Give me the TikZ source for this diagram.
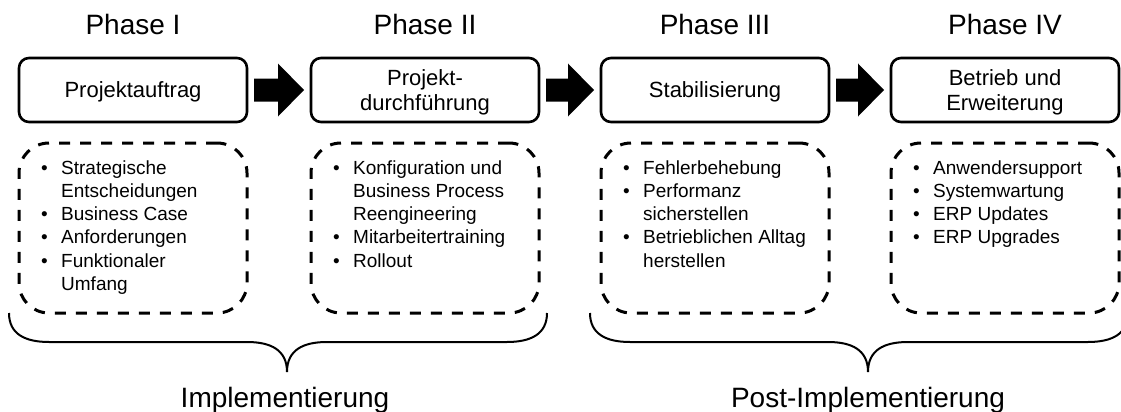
\documentclass[tikz,border=0pt]{standalone}
\usepackage{fontspec}
\setmainfont{Liberation Sans}
\usetikzlibrary{calc}
\newcommand\bl[1]{\makebox[20pt][l]{•}#1}
\newcommand\cl[1]{\hspace*{20pt}#1}
\newcommand\blockarrow[2]{%
  \fill ($(#1.east)+(7,-11.5)$) -- ($(#2.west)+(-33,-11.5)$) -- ($(#2.west)+(-33,-26.5)$)
     -- ($(#2.west)+(-7,0)$) -- ($(#2.west)+(-33,26.5)$) -- ($(#2.west)+(-33,11.5)$)
     -- ($(#1.east)+(7,11.5)$) -- cycle;}
\newcommand\bracepath[3]{% left x, tip x, right x
  \draw[bracestyle] (#1,313) .. controls (#1,334) and (#1+16,342) .. (#1+40,342)
    -- (#2-40,342) .. controls (#2-16,342) and (#2,350) .. (#2,372)
    .. controls (#2,350) and (#2+16,342) .. (#2+40,342)
    -- (#3-40,342) .. controls (#3-16,342) and (#3,334) .. (#3,313);}
\begin{document}
\begin{tikzpicture}[x=1pt,y=-1pt,
  phasebox/.style={draw, line width=2.6pt, rounded corners=10pt, minimum width=228pt,
    minimum height=64pt, inner sep=0pt, outer sep=0pt, align=center, text depth=0pt,
    font=\fontsize{22}{25}\selectfont},
  dashbox/.style={draw, line width=3pt, dash pattern=on 11pt off 10pt, rounded corners=30pt,
    minimum width=228pt, minimum height=170pt, inner sep=0pt, outer sep=0pt},
  phaselabel/.style={anchor=base, inner sep=0pt, font=\fontsize{28}{32}\selectfont},
  listtext/.style={anchor=base west, inner sep=0pt, font=\fontsize{19}{23.3}\selectfont},
  bracestyle/.style={line width=2pt},
  biglabel/.style={anchor=base, inner sep=0pt, font=\fontsize{28}{32}\selectfont}
]
\useasboundingbox (0,0) rectangle (1121,412);

% phase boxes
\node[phasebox] (p1) at (133,90) {Projektauftrag};
\node[phasebox] (p2) at (425,90) {Projekt-\\durchführung};
\node[phasebox] (p3) at (715,90) {Stabilisierung};
\node[phasebox] (p4) at (1005,90) {Betrieb und\\Erweiterung};

% phase labels
\node[phaselabel] (l1) at (133,35) {Phase I};
\node[phaselabel] (l2) at (425,35) {Phase II};
\node[phaselabel] (l3) at (715,35) {Phase III};
\node[phaselabel] (l4) at (1005,35) {Phase IV};

% arrows
\blockarrow{p1}{p2}
\blockarrow{p2}{p3}
\blockarrow{p3}{p4}

% dashed boxes
\node[dashbox] (d1) at (133,228) {};
\node[dashbox] (d2) at (425,228) {};
\node[dashbox] (d3) at (715,228) {};
\node[dashbox] (d4) at (1005,228) {};

% lists
\node[listtext] (t1) at (41,174) {\parbox[t]{220pt}{\bl{Strategische}\\\cl{Entscheidungen}\\\bl{Business Case}\\\bl{Anforderungen}\\\bl{Funktionaler}\\\cl{Umfang}}};
\node[listtext] (t2) at (333,174) {\parbox[t]{220pt}{\bl{Konfiguration und}\\\cl{Business Process}\\\cl{Reengineering}\\\bl{Mitarbeitertraining}\\\bl{Rollout}}};
\node[listtext] (t3) at (623,174) {\parbox[t]{220pt}{\bl{Fehlerbehebung}\\\bl{Performanz}\\\cl{sicherstellen}\\\bl{Betrieblichen Alltag}\\\cl{herstellen}}};
\node[listtext] (t4) at (913,174) {\parbox[t]{220pt}{\bl{Anwendersupport}\\\bl{Systemwartung}\\\bl{ERP Updates}\\\bl{ERP Upgrades}}};

% braces
\bracepath{9}{287}{547}
\bracepath{590}{868}{1128}

% bottom labels
\node[biglabel] (i1) at (285,407) {Implementierung};
\node[biglabel] (i2) at (868,407) {Post-Implementierung};
\end{tikzpicture}
\end{document}
